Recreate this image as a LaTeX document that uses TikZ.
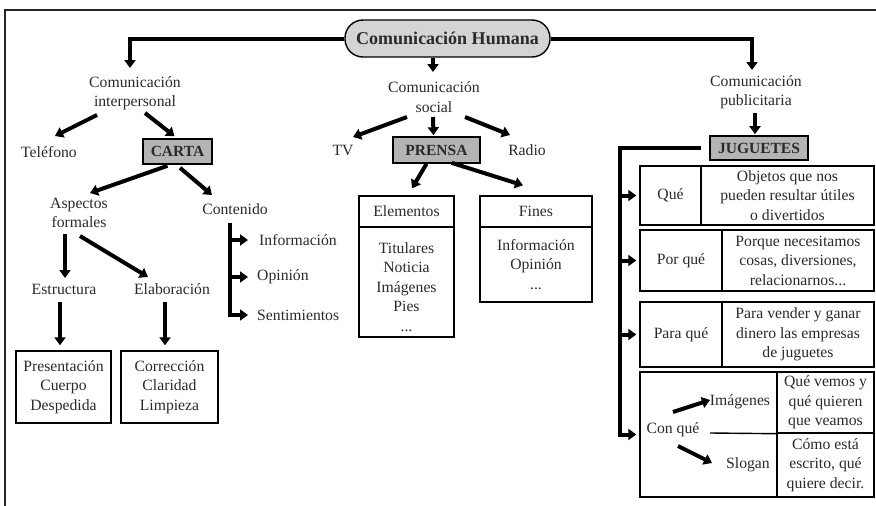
\documentclass[tikz,border=0pt]{standalone}
\usepackage{fontspec}
\setmainfont{Liberation Serif}
\usetikzlibrary{arrows.meta,calc}
\definecolor{txt}{HTML}{2A2A2A}
\definecolor{boxgray}{HTML}{B4B4B4}
\definecolor{humgray}{HTML}{D4D4D4}
\begin{document}
\begin{tikzpicture}[x=1pt,y=-1pt,
  every node/.style={text=txt, font=\fontsize{15.7}{19.5}\selectfont, align=center, inner sep=0pt},
  arr/.style={draw=black, line width=4pt, line join=miter, -{Triangle[width=11pt,length=8pt]}},
  graybox/.style={draw=black, line width=1.6pt, fill=boxgray, font=\fontsize{15.5}{19}\selectfont\bfseries, minimum height=25pt},
  cell/.style={draw=black, line width=1.4pt},
]
\useasboundingbox (0,0) rectangle (876,506);
% frame
\draw[line width=2pt, draw=black!85] (5,506) -- (5,10) -- (876,10);

% top
\node[draw=black, line width=1.4pt, fill=humgray, rounded corners=18pt, minimum width=205pt, minimum height=37pt, font=\fontsize{18}{20}\selectfont\bfseries] (hum) at (447.5,38.5) {Comunicación Humana};

\node (inter) at (135,93) {Comunicación\\interpersonal};
\node (social) at (434,97) {Comunicación\\social};
\node (publi) at (756,92) {Comunicación\\publicitaria};

\draw[arr] (hum.west) -| ([shift={(-5,-25)}]inter.center);
\draw[arr] (hum.east) -| ([shift={(-4,-22)}]publi.center);
\draw[arr] ([shift={(-14.5,0)}]hum.south) -- ([shift={(-1,-25)}]social.center);

% level 2
\node (tel) at (49,152) {Teléfono};
\node[graybox, minimum width=69pt] (carta) at (177.5,151.5) {CARTA};
\node (tv) at (343,150) {TV};
\node[graybox, minimum width=87pt, minimum height=26pt] (prensa) at (436.5,150) {PRENSA};
\node (radio) at (527,150) {Radio};
\node[graybox, minimum width=98pt, minimum height=24pt] (jug) at (759,148) {JUGUETES};

\draw[arr] ([shift={(-38,22)}]inter.center) -- ([shift={(6,-16)}]tel.center);
\draw[arr] ([shift={(10,20)}]inter.center) -- ([shift={(-3,-2)}]carta.north);
\draw[arr] ([shift={(-27,20)}]social.center) -- ([shift={(10,-13)}]tv.center);
\draw[arr] ([shift={(-1,20)}]social.center) -- ([shift={(-3,-1)}]prensa.north);
\draw[arr] ([shift={(31,20)}]social.center) -- ([shift={(-17,-15)}]radio.center);
\draw[arr] ([shift={(-1,21)}]publi.center) -- ([shift={(-4,-1)}]jug.north);

% CARTA branch
\node (asp) at (79,213) {Aspectos\\formales};
\node (cont) at (235,209) {Contenido};
\draw[arr] ([shift={(-10,1)}]carta.south) -- ([shift={(11,-20)}]asp.center);
\draw[arr] ([shift={(2.5,3)}]carta.south) -- ([shift={(-23,-14)}]cont.center);

\node (estr) at (64,289) {Estructura};
\node (elab) at (172,289) {Elaboración};
\draw[arr] ([shift={(-14,21)}]asp.center) -- ([shift={(1,-11)}]estr.center);
\draw[arr] ([shift={(1,23)}]asp.center) -- ([shift={(-24,-12)}]elab.center);

\node[cell, minimum width=95pt, minimum height=72pt] (pres) at (63.5,387) {Presentación\\Cuerpo\\Despedida};
\node[cell, minimum width=97pt, minimum height=72pt] (corr) at (169.5,387) {Corrección\\Claridad\\Limpieza};
\draw[arr] ([shift={(-4,13)}]estr.center) -- ([shift={(-3.5,-5)}]pres.north);
\draw[arr] ([shift={(-7,13)}]elab.center) -- ([shift={(-4.5,-5)}]corr.north);

\node[anchor=west] (info) at (259,240) {Información};
\node[anchor=west] (opin) at (257,277) {Opinión};
\node[anchor=west] (sent) at (257,315) {Sentimientos};
\coordinate (cb) at (230,223);
\draw[arr, shorten >=9pt] (cb) -- (cb |- sent.west) -- (sent.west);
\draw[arr, shorten >=11pt] (cb |- info.west) -- (info.west);
\draw[arr, shorten >=9pt] (cb |- opin.west) -- (opin.west);

% PRENSA branch
\node[cell, minimum width=95pt, minimum height=31pt] (elemh) at (406.5,211.5) {Elementos};
\node[cell, minimum width=95pt, minimum height=110pt] (elemb) at (406.5,282) {};
\node (elemt) at (406.5,287) {Titulares\\Noticia\\Imágenes\\Pies\\...};
\node[cell, minimum width=112pt, minimum height=31pt] (finh) at (536,211.5) {Fines};
\node[cell, minimum width=112pt, minimum height=75pt] (finb) at (536,264.5) {Información\\Opinión\\...};
\draw[arr] ([shift={(-10,0)}]prensa.south) -- ([shift={(5.5,-7)}]elemh.north);
\draw[arr] ([shift={(15,-1)}]prensa.south) -- ([shift={(-13,-10)}]finh.north);

% JUGUETES branch
\node[cell, minimum width=61pt, minimum height=59pt] (q1l) at (670.5,195.5) {Qué};
\node[cell, minimum width=173pt, minimum height=59pt] (q1r) at (787.5,195.5) {Objetos que nos\\pueden resultar útiles\\o divertidos};
\node[cell, minimum width=82pt, minimum height=61pt] (q2l) at (681,260.5) {Por qué};
\node[cell, minimum width=152pt, minimum height=61pt] (q2r) at (798,260.5) {Porque necesitamos\\cosas, diversiones,\\relacionarnos...};
\node[cell, minimum width=82pt, minimum height=65pt] (q3l) at (681,334.5) {Para qué};
\node[cell, minimum width=152pt, minimum height=65pt] (q3r) at (798,334.5) {Para vender y ganar\\dinero las empresas\\de juguetes};
\node[cell, minimum width=234pt, minimum height=125pt] (q4) at (757,434.5) {};
\node[cell, minimum width=97pt, minimum height=61pt] (q4a) at (825.5,402.5) {Qué vemos y\\qué quieren\\que veamos};
\node[cell, minimum width=97pt, minimum height=64pt] (q4b) at (825.5,465) {Cómo está\\escrito, qué\\quiere decir.};
\coordinate (hd) at (710,433);
\draw[cell] (hd) -- (q4a.south west);

\node (conq) at (673,430) {Con qué};
\node (imag) at (740,402) {Imágenes};
\node (slog) at (748,465) {Slogan};
\draw[arr] ([shift={(0,-18)}]conq.center) -- ([shift={(-30,-2)}]imag.center);
\draw[arr] ([shift={(5,16)}]conq.center) -- ([shift={(-36,-2)}]slog.center);

\coordinate (jb) at (620,147);
\draw[arr, shorten <=8pt, shorten >=3pt] (jug.west) -- (jb |- jug.west) -- (jb |- q4.west) -- (q4.west);
\draw[arr, shorten >=3pt] (jb |- q1l.west) -- (q1l.west);
\draw[arr, shorten >=3pt] (jb |- q2l.west) -- (q2l.west);
\draw[arr, shorten >=3pt] (jb |- q3l.west) -- (q3l.west);
\end{tikzpicture}
\end{document}
